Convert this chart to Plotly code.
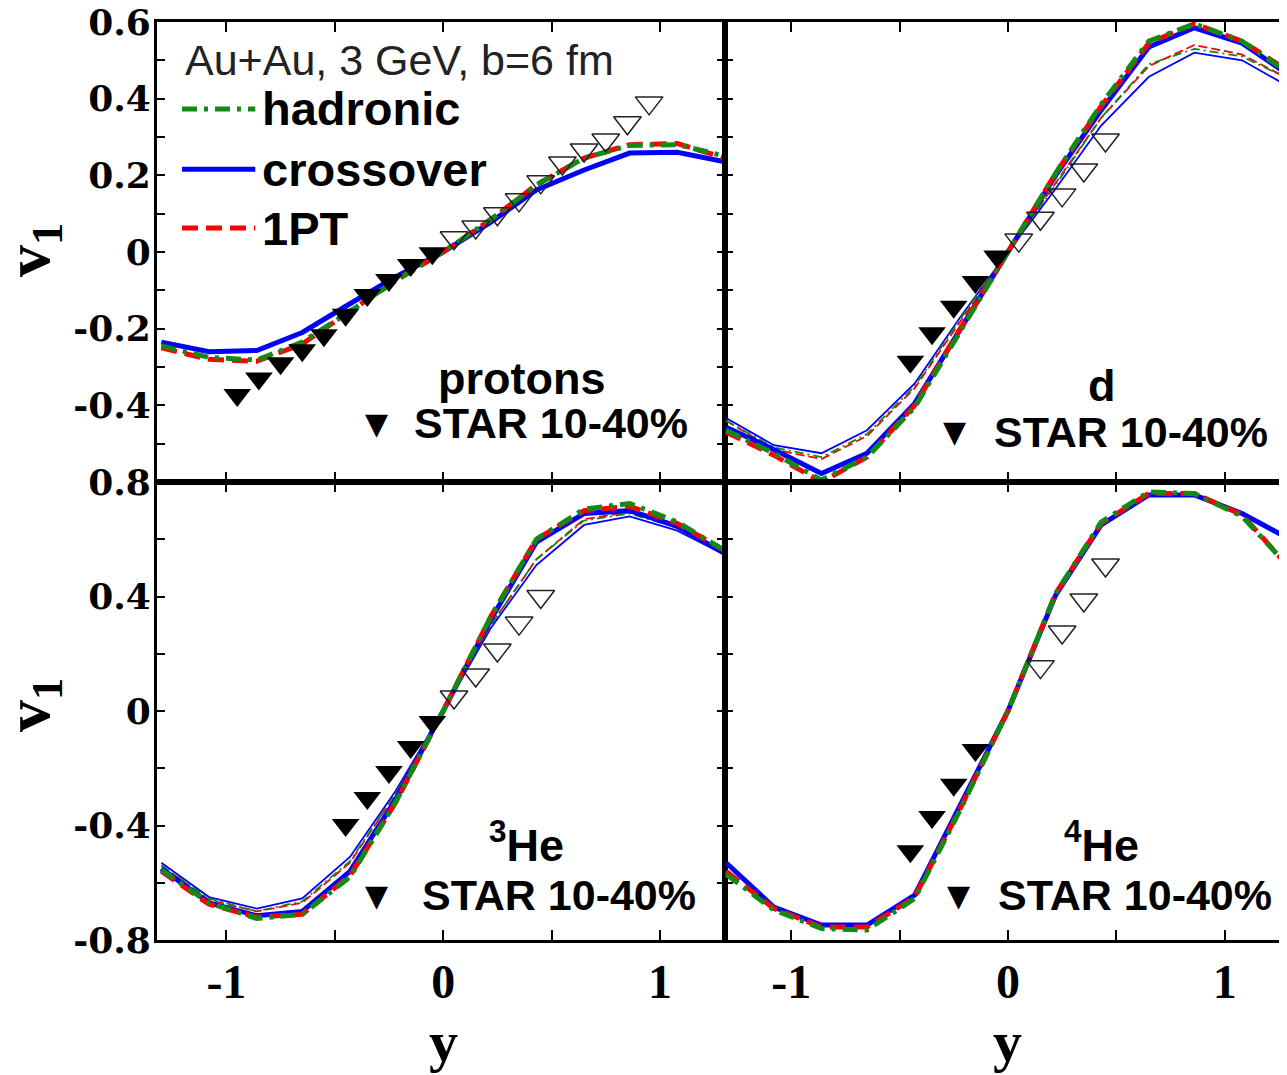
import plotly.graph_objects as go
from plotly.subplots import make_subplots

# rapidity points of the model curves
y_model = [-1.30, -1.08, -0.86, -0.65, -0.43, -0.22, 0.0, 0.22, 0.43, 0.65, 0.86, 1.08, 1.30]

# protons
p_had = [-0.245, -0.275, -0.282, -0.235, -0.155, -0.075, 0.0, 0.085, 0.175, 0.245, 0.278, 0.280, 0.250]
p_cross = [-0.235, -0.260, -0.257, -0.210, -0.135, -0.065, 0.0, 0.078, 0.162, 0.214, 0.258, 0.260, 0.235]
p_1pt = [-0.250, -0.280, -0.285, -0.240, -0.155, -0.075, 0.0, 0.085, 0.175, 0.245, 0.280, 0.283, 0.245]
p_star_y = [-0.95, -0.85, -0.75, -0.65, -0.55, -0.45, -0.35, -0.25, -0.15, -0.05]
p_star_v = [-0.373, -0.330, -0.290, -0.256, -0.217, -0.164, -0.112, -0.073, -0.034, -0.003]
p_refl_y = [0.05, 0.15, 0.25, 0.35, 0.45, 0.55, 0.65, 0.75, 0.85, 0.95]
p_refl_v = [0.037, 0.065, 0.100, 0.136, 0.183, 0.232, 0.266, 0.292, 0.337, 0.389]

# deuterons
d_had = [-0.465, -0.525, -0.595, -0.535, -0.405, -0.205, 0.0, 0.205, 0.385, 0.550, 0.595, 0.550, 0.465]
d_cross = [-0.457, -0.515, -0.578, -0.525, -0.395, -0.200, 0.0, 0.200, 0.370, 0.535, 0.585, 0.545, 0.460]
d_1pt = [-0.470, -0.530, -0.600, -0.535, -0.400, -0.200, 0.0, 0.205, 0.380, 0.545, 0.595, 0.550, 0.470]
d_had_thin = [-0.440, -0.510, -0.535, -0.475, -0.350, -0.175, 0.0, 0.175, 0.350, 0.490, 0.530, 0.510, 0.450]
d_cross_thin = [-0.433, -0.504, -0.525, -0.465, -0.343, -0.170, 0.0, 0.165, 0.330, 0.457, 0.520, 0.500, 0.430]
d_1pt_thin = [-0.440, -0.515, -0.540, -0.480, -0.355, -0.180, 0.0, 0.180, 0.350, 0.485, 0.540, 0.515, 0.450]
d_star_y = [-0.45, -0.35, -0.25, -0.15, -0.05]
d_star_v = [-0.286, -0.212, -0.143, -0.078, -0.012]
d_refl_y = [0.05, 0.15, 0.25, 0.35, 0.45]
d_refl_v = [0.031, 0.088, 0.149, 0.214, 0.292]

# helium-3
he3_had = [-0.555, -0.670, -0.725, -0.710, -0.580, -0.320, 0.0, 0.330, 0.600, 0.705, 0.725, 0.660, 0.560]
he3_cross = [-0.550, -0.670, -0.715, -0.700, -0.560, -0.310, 0.0, 0.320, 0.590, 0.690, 0.700, 0.645, 0.550]
he3_1pt = [-0.560, -0.675, -0.720, -0.710, -0.575, -0.320, 0.0, 0.330, 0.600, 0.700, 0.715, 0.655, 0.560]
he3_had_thin = [-0.540, -0.655, -0.700, -0.665, -0.525, -0.290, 0.0, 0.300, 0.530, 0.665, 0.690, 0.640, 0.550]
he3_cross_thin = [-0.530, -0.650, -0.690, -0.655, -0.510, -0.280, 0.0, 0.290, 0.510, 0.650, 0.680, 0.630, 0.545]
he3_1pt_thin = [-0.540, -0.660, -0.700, -0.670, -0.530, -0.290, 0.0, 0.300, 0.530, 0.670, 0.695, 0.645, 0.550]
he3_star_y = [-0.45, -0.35, -0.25, -0.15, -0.05]
he3_star_v = [-0.398, -0.304, -0.213, -0.126, -0.038]
he3_refl_y = [0.05, 0.15, 0.25, 0.35, 0.45]
he3_refl_v = [0.049, 0.126, 0.213, 0.307, 0.400]

# helium-4
he4_had = [-0.570, -0.695, -0.760, -0.765, -0.655, -0.345, 0.0, 0.410, 0.660, 0.765, 0.760, 0.680, 0.500]
he4_cross = [-0.530, -0.685, -0.748, -0.748, -0.643, -0.330, 0.0, 0.405, 0.650, 0.755, 0.755, 0.690, 0.600]
he4_1pt = [-0.560, -0.690, -0.755, -0.755, -0.650, -0.340, 0.0, 0.410, 0.655, 0.760, 0.760, 0.685, 0.500]
he4_star_y = [-0.45, -0.35, -0.25, -0.15]
he4_star_v = [-0.490, -0.370, -0.258, -0.136]
he4_refl_y = [0.15, 0.25, 0.35, 0.45]
he4_refl_v = [0.155, 0.276, 0.388, 0.510]

GREEN = '#138a13'
BLUE = '#0000ff'
RED = '#ff0000'

panels = [
    dict(row=1, col=1, name='protons', thick=(p_cross, p_1pt, p_had), thin=None,
         star=(p_star_y, p_star_v), refl=(p_refl_y, p_refl_v)),
    dict(row=1, col=2, name='d', thick=(d_cross, d_1pt, d_had),
         thin=(d_cross_thin, d_1pt_thin, d_had_thin),
         star=(d_star_y, d_star_v), refl=(d_refl_y, d_refl_v)),
    dict(row=2, col=1, name='<sup>3</sup>He', thick=(he3_cross, he3_1pt, he3_had),
         thin=(he3_cross_thin, he3_1pt_thin, he3_had_thin),
         star=(he3_star_y, he3_star_v), refl=(he3_refl_y, he3_refl_v)),
    dict(row=2, col=2, name='<sup>4</sup>He', thick=(he4_cross, he4_1pt, he4_had), thin=None,
         star=(he4_star_y, he4_star_v), refl=(he4_refl_y, he4_refl_v)),
]

thick_styles = [dict(color=BLUE, width=5),
                dict(color=RED, width=5, dash='16px,8px'),
                dict(color=GREEN, width=5, dash='15px,7px,4px,7px')]
thin_styles = [dict(color=BLUE, width=1.8),
               dict(color=RED, width=1.8, dash='9px,4px'),
               dict(color=GREEN, width=1.8, dash='9px,4px,2px,4px')]

fig = make_subplots(rows=2, cols=2, horizontal_spacing=0, vertical_spacing=0)

for p in panels:
    r, c = p['row'], p['col']
    fig.add_hline(y=0, row=r, col=c, line=dict(color='black', width=2, dash='10px,6px'))
    if p['thin']:
        for vals, st in zip(p['thin'], thin_styles):
            fig.add_trace(go.Scatter(x=y_model, y=vals, mode='lines', line=st,
                                     showlegend=False), row=r, col=c)
    for vals, st in zip(p['thick'], thick_styles):
        fig.add_trace(go.Scatter(x=y_model, y=vals, mode='lines', line=st,
                                 showlegend=False), row=r, col=c)
    fig.add_trace(go.Scatter(x=p['star'][0], y=p['star'][1], mode='markers',
                             marker=dict(symbol='triangle-down', size=24, color='black'),
                             showlegend=False), row=r, col=c)
    fig.add_trace(go.Scatter(x=p['refl'][0], y=p['refl'][1], mode='markers',
                             marker=dict(symbol='triangle-down-open', size=24, color='#222222',
                                         line=dict(width=1.5)),
                             showlegend=False), row=r, col=c)

# pixel layout of the panels (page is drawn with an 8 px body offset)
W, H = 1287, 1075
OFF = 8
x_dom = [[(157 - OFF) / W, (725 - OFF) / W], [(725 - OFF) / W, (1290 - OFF) / W]]
y_dom = [[1 - (482 - OFF) / H, 1 - (22 - OFF) / H], [1 - (940 - OFF) / H, 1 - (482 - OFF) / H]]
x_rng = [[-1.32, 1.30], [-1.305, 1.301]]

tick_font_x = dict(family='Liberation Serif', size=48, color='black', weight='bold')
tick_font_y = dict(family='DejaVu Serif', size=36, color='black', weight='bold')

for r in (1, 2):
    for c in (1, 2):
        fig.update_xaxes(row=r, col=c, domain=x_dom[c - 1], range=x_rng[c - 1],
                         tickvals=[-1, -0.5, 0, 0.5, 1], ticktext=['-1', '', '0', '', '1'],
                         showticklabels=(r == 2), ticks='inside', ticklen=10, tickwidth=2,
                         tickcolor='black', showline=True, linewidth=3, linecolor='black',
                         mirror='ticks', showgrid=False, zeroline=False, automargin=False,
                         tickfont=tick_font_x, ticklabelstandoff=-3, ticklabeloverflow='allow')
        if r == 1:
            tv = [-0.6, -0.5, -0.4, -0.3, -0.2, -0.1, 0, 0.1, 0.2, 0.3, 0.4, 0.5, 0.6]
            tt = ['', '', '-0.4', '', '-0.2', '', '0', '', '0.2', '', '0.4', '', '0.6']
            rng = [-0.6, 0.6]
        else:
            tv = [-0.8, -0.6, -0.4, -0.2, 0, 0.2, 0.4, 0.6, 0.8]
            tt = ['-0.8', '', '-0.4', '', '0', '', '0.4', '', '0.8']
            rng = [-0.8, 0.8]
        fig.update_yaxes(row=r, col=c, domain=y_dom[r - 1], range=rng,
                         tickvals=tv, ticktext=tt, showticklabels=(c == 1),
                         ticks='inside', ticklen=8, tickwidth=2, tickcolor='black',
                         showline=True, linewidth=3, linecolor='black', mirror='ticks',
                         showgrid=False, zeroline=False, automargin=False,
                         tickfont=tick_font_y, ticklabelstandoff=-4, ticklabeloverflow='allow')

sans = 'Liberation Sans'
ann = []
# axis titles
for yc in (250, 705):
    ann.append(dict(x=(32 - OFF) / W, y=1 - (yc - OFF) / H, xref='paper', yref='paper',
                    text='v<sub>1</sub>', textangle=-90, showarrow=False,
                    xanchor='center', yanchor='middle',
                    font=dict(family='Liberation Serif', size=64, color='black', weight='bold')))
for xc in (443, 1007):
    ann.append(dict(x=(xc - OFF) / W, y=1 - (1041 - OFF) / H, xref='paper', yref='paper',
                    text='y', showarrow=False, xanchor='center', yanchor='middle',
                    font=dict(family='Liberation Serif', size=58, color='black', weight='bold')))

# legend of the model curves (top-left panel)
ann.append(dict(x=0.046, y=0.917, xref='x domain', yref='y domain', text='Au+Au, 3 GeV, b=6 fm',
                xanchor='left', yanchor='middle', showarrow=False,
                font=dict(family=sans, size=43, color='#222222')))
legend_items = [('hadronic', thick_styles[2], 0.811),
                ('crossover', thick_styles[0], 0.680),
                ('1PT', thick_styles[1], 0.552)]
for label, st, yy in legend_items:
    fig.add_shape(type='line', xref='x domain', yref='y domain', x0=0.044, x1=0.173,
                  y0=yy, y1=yy, line=st)
    ann.append(dict(x=0.181, y=yy, xref='x domain', yref='y domain', text=label,
                    xanchor='left', yanchor='middle', showarrow=False,
                    font=dict(family=sans, size=47, color='black', weight='bold')))

# panel labels
label_pos = {
    (1, 1): ((0.641, 0.225), (0.387, 0.128), (0.449, 0.128)),
    (1, 2): ((0.667, 0.210), (0.406, 0.109), (0.472, 0.109)),
    (2, 1): ((0.651, 0.215), (0.387, 0.098), (0.463, 0.098)),
    (2, 2): ((0.667, 0.215), (0.413, 0.098), (0.480, 0.098)),
}
axis_ids = {(1, 1): ('x', 'y'), (1, 2): ('x2', 'y2'), (2, 1): ('x3', 'y3'), (2, 2): ('x4', 'y4')}
for p in panels:
    key = (p['row'], p['col'])
    xa, ya = axis_ids[key]
    (nx, ny), (tx, ty), (sx, sy) = label_pos[key]
    ann.append(dict(x=nx, y=ny, xref=xa + ' domain', yref=ya + ' domain', text=p['name'],
                    showarrow=False, xanchor='center', yanchor='middle',
                    font=dict(family=sans, size=45, color='black', weight='bold')))
    ann.append(dict(x=tx, y=ty, xref=xa + ' domain', yref=ya + ' domain', text='▼',
                    showarrow=False, xanchor='center', yanchor='middle',
                    font=dict(family='DejaVu Sans', size=30, color='black')))
    ann.append(dict(x=sx, y=sy, xref=xa + ' domain', yref=ya + ' domain', text='STAR 10-40%',
                    showarrow=False, xanchor='left', yanchor='middle',
                    font=dict(family=sans, size=43, color='black', weight='bold')))

fig.update_layout(width=W, height=H, margin=dict(l=0, r=0, t=0, b=0, autoexpand=False),
                  paper_bgcolor='white', plot_bgcolor='white', showlegend=False,
                  annotations=ann)

fig.write_html('out.html')
